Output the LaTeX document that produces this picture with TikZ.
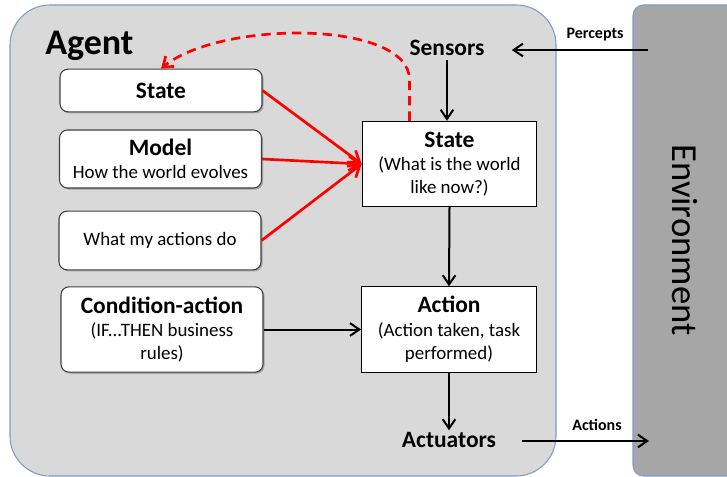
\documentclass[tikz,border=0pt]{standalone}
\usepackage{fontspec}
\setmainfont{Carlito}
\usetikzlibrary{arrows.meta,shadows,calc}
\definecolor{agentfill}{HTML}{D9D9D9}
\definecolor{envfill}{HTML}{A6A6A6}
\definecolor{edgeblue}{HTML}{7E9CC8}
\definecolor{boxedge}{HTML}{404040}
\definecolor{redline}{HTML}{FF0000}
\newcommand{\bigtxt}[1]{{\fontsize{17.6}{17.5}\selectfont\bfseries #1}}
\tikzset{
  big/.style={font=\fontsize{17.6}{17.5}\selectfont\bfseries},
  sub/.style={font=\fontsize{14.2}{17.5}\selectfont},
  leftbox/.style={draw=boxedge, line width=0.8pt, fill=white, rounded corners=6pt,
    minimum width=151.5pt, align=center, inner sep=1pt, sub,
    drop shadow={shadow xshift=1.2pt, shadow yshift=-1.2pt, opacity=0.45, fill=black!60}},
  rightbox/.style={draw=black, line width=0.8pt, fill=white, sub,
    minimum width=131pt, minimum height=64pt, align=center, inner sep=1pt},
  flow/.style={line width=1.5pt, -{Straight Barb[length=7pt,width=9.5pt,line width=1.5pt]}},
  redflow/.style={redline, line width=2pt, -{Straight Barb[length=8pt,width=11pt,line width=2pt]}},
  smalllabel/.style={font=\fontsize{12}{14}\selectfont\bfseries},
}
\begin{document}
\begin{tikzpicture}[x=0.75pt,y=-0.75pt]
\clip (0,0) rectangle (727,477);
\useasboundingbox (0,0) rectangle (727,477);
% containers
\fill[white] (0,0) rectangle (727,477);
\draw[edgeblue, line width=0.8pt, fill=agentfill, rounded corners=30pt] (10,5) rectangle (556,476);
\draw[edgeblue, line width=0.8pt, fill=envfill, rounded corners=8pt] (633,5) rectangle (760,476);
\node[anchor=base west, inner sep=0pt, font=\fontsize{27}{30}\selectfont\bfseries] (agentlbl) at (45,55) {Agent};
\node[rotate=-90, font=\fontsize{27.5}{30}\selectfont] (envlbl) at (685,240) {Environment};
% left boxes
\node[leftbox, minimum height=32pt, big] (stateL) at (161,90.5) {State};
\node[leftbox, minimum height=43.5pt] (model) at (160.5,159) {\bigtxt{Model}\\How the world evolves};
\node[leftbox, minimum height=44pt] (what) at (160,240.5) {What my actions do};
\node[leftbox, minimum height=64pt] (cond) at (162,329.5) {\bigtxt{Condition-action}\\(IF...THEN business\\rules)};
% right boxes
\node[rightbox] (stateR) at (449.5,164) {\bigtxt{State}\\(What is the world\\like now?)};
\node[rightbox] (action) at (449,329.5) {\bigtxt{Action}\\(Action taken, task\\performed)};
\node[big] (sensors) at (447,48) {Sensors};
\node[big] (actuators) at (449,440) {Actuators};
\node[smalllabel] (percepts) at (595,35) {Percepts};
\node[smalllabel] (actions) at (597,425) {Actions};
\coordinate (envIn) at (648,50);
\coordinate (envOut) at (649,441);
% black connectors
\draw[flow] (sensors.south) -- (sensors.south |- stateR.north);
\draw[flow] (stateR.south) -- (action.north);
\draw[flow] (action.south) -- ([yshift=-2pt]actuators.north);
\draw[flow] (cond.east) -- (action.west);
\draw[flow, shorten >=17pt] (envIn) -- (sensors.east |- envIn);
\draw[flow, shorten <=16pt] (actuators.east |- envOut) -- (envOut);
% red connectors
\draw[redflow] (stateL.east) -- (stateR.west);
\draw[redflow] (model.east) -- (stateR.west);
\draw[redflow] (what.east) -- (stateR.west);
\draw[redline, line width=2pt, dash pattern=on 7pt off 4.5pt, -{Straight Barb[length=7pt,width=10pt,line width=2pt]}]
  ([xshift=-30pt]stateR.north) -- ++(0,-41) .. controls ++(0,-60) and (220,20) .. (stateL.north);
\end{tikzpicture}
\end{document}
